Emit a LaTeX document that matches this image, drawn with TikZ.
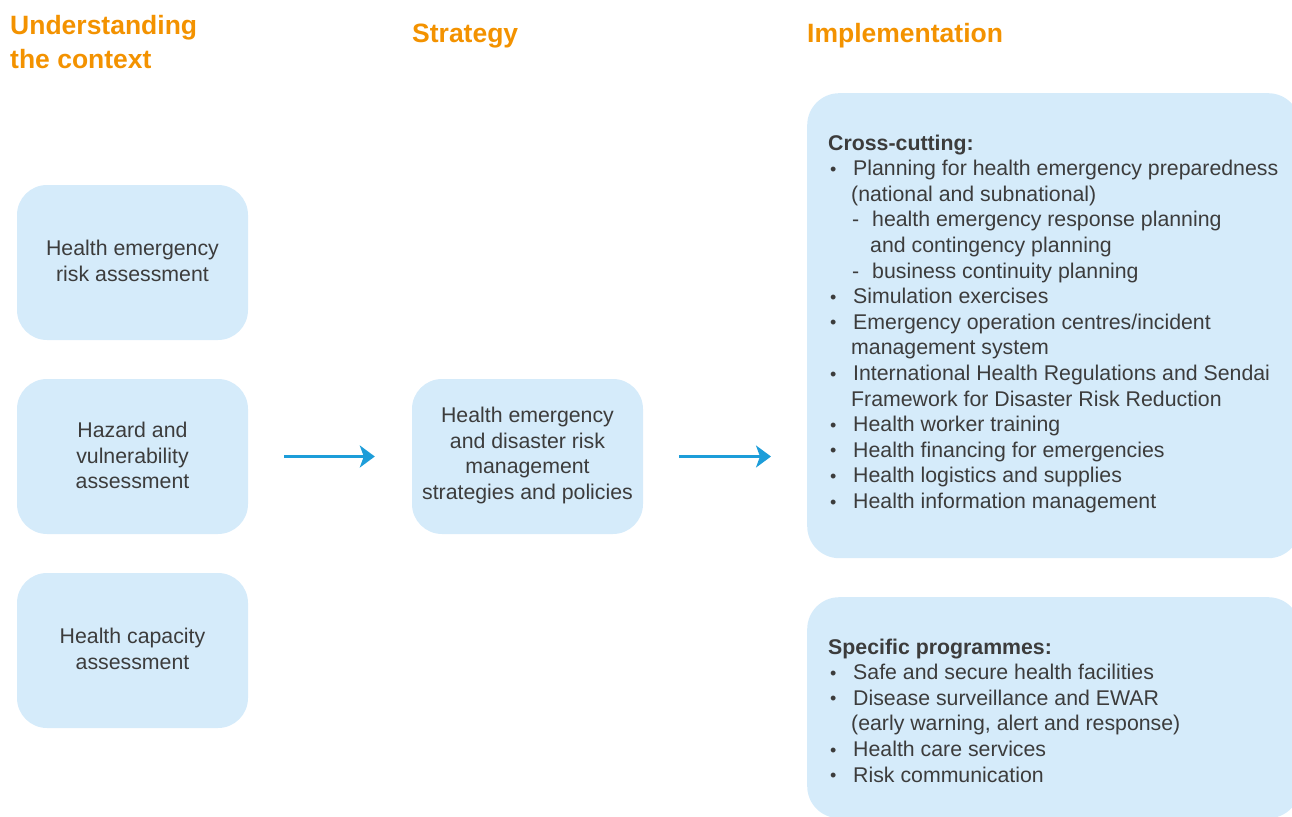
\documentclass[tikz,border=0pt]{standalone}
\usepackage{fontspec}
\setmainfont{Liberation Sans}
\usetikzlibrary{arrows.meta}
\definecolor{boxblue}{HTML}{D5EBFA}
\definecolor{arrowblue}{HTML}{1D9DD9}
\definecolor{headorange}{HTML}{F39200}
\definecolor{txtgray}{HTML}{3C3C3C}
\newcommand{\bul}{\hspace*{2pt}\makebox[23pt][l]{\raisebox{0.5pt}{\fontsize{18}{18}\selectfont\textbullet}}}
\newcommand{\cont}{\hspace*{23pt}}
\newcommand{\subd}{\hspace*{24pt}\makebox[20pt][l]{-}}
\newcommand{\subc}{\hspace*{42pt}}
\begin{document}
\begin{tikzpicture}[x=1pt,y=-1pt,
  every node/.style={text=txtgray},
  bodyfont/.style={font=\fontsize{21.3}{25.6}\selectfont},
  headfont/.style={font=\fontsize{26.5}{33}\selectfont\bfseries, text=headorange},
  smallbox/.style={fill=boxblue, draw=none, rounded corners=30pt, minimum width=231pt, minimum height=155pt, inner sep=0pt},
  boxtext/.style={align=center, inner sep=0pt, bodyfont},
  bigbox/.style={fill=boxblue, draw=none, rounded corners=32pt, minimum width=493pt, anchor=north west, inner sep=0pt},
  listtext/.style={bodyfont, align=left, anchor=north west, inner sep=0pt},
  arr/.style={draw=arrowblue, line width=2.5pt, -{Stealth[length=15pt,width=22pt,inset=4pt]}}
]
\useasboundingbox (0,0) rectangle (1292,816);
\clip (0,0) rectangle (1292,816);

% headers
\node[headfont, anchor=base west, align=left, inner sep=0pt] (h1) at (10,68) {Understanding\\the context};
\node[headfont, anchor=base west, inner sep=0pt] (h2) at (412,43) {Strategy};
\node[headfont, anchor=base west, inner sep=0pt] (h3) at (807,43) {Implementation};

% left column
\node[smallbox] (ra) at (132.5,262.5) {};
\node[boxtext] (ratext) at (132.5,261) {Health emergency\\risk assessment};
\node[smallbox] (hv) at (132.5,456.5) {};
\node[boxtext] (hvtext) at (132.5,455.5) {Hazard and\\vulnerability\\assessment};
\node[smallbox] (hc) at (132.5,650.5) {};
\node[boxtext] (hctext) at (132.5,649) {Health capacity\\assessment};

% middle
\node[smallbox] (mid) at (527.5,456.5) {};
\node[boxtext] (midtext) at (527.5,455.5) {Health emergency\\and disaster risk\\management\\strategies and policies};

% right boxes
\node[bigbox, minimum height=465pt] (cc) at (807,93) {};
\node[bigbox, minimum height=221pt] (sp) at (807,597) {};

\node[listtext] (cctext) at (828,134.5) {\textbf{Cross-cutting:}\\
\bul Planning for health emergency preparedness\\
\cont(national and subnational)\\
\subd health emergency response planning\\
\subc and contingency planning\\
\subd business continuity planning\\
\bul Simulation exercises\\
\bul Emergency operation centres/incident\\
\cont management system\\
\bul International Health Regulations and Sendai\\
\cont Framework for Disaster Risk Reduction\\
\bul Health worker training\\
\bul Health financing for emergencies\\
\bul Health logistics and supplies\\
\bul Health information management};

\node[listtext] (sptext) at (828,638.5) {\textbf{Specific programmes:}\\
\bul Safe and secure health facilities\\
\bul Disease surveillance and EWAR\\
\cont(early warning, alert and response)\\
\bul Health care services\\
\bul Risk communication};

% arrows
\draw[arr] ([xshift=36pt]hv.east) -- ([xshift=-37pt]mid.west);
\draw[arr] ([xshift=36pt]mid.east) -- ([xshift=-36pt]mid.east -| cc.west);
\end{tikzpicture}
\end{document}
